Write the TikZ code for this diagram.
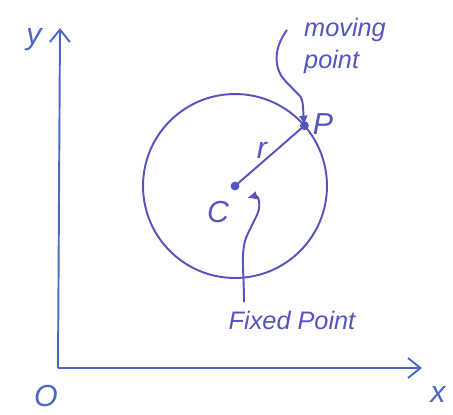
\documentclass[tikz,border=0pt]{standalone}
\usepackage{fontspec}
\setmainfont{Liberation Sans}
\usetikzlibrary{arrows.meta, positioning, calc}
\definecolor{pen}{RGB}{84,84,192}
\definecolor{axispen}{RGB}{72,104,196}

\begin{document}
\begin{tikzpicture}[
    x=0.02cm, y=-0.02cm,
    ink/.style={draw=pen, line width=1.1pt},
    axis/.style={draw=axispen, line width=1.1pt, -{Straight Barb[length=2.5mm, width=4mm]}},
    pointer/.style={ink, -{Latex[length=2mm, width=1.8mm]}, rounded corners=6pt},
    hand/.style={text=pen, font=\LARGE\itshape, inner sep=1pt},
    note/.style={text=pen, font=\Large\itshape, align=left, inner sep=1pt}
]
\useasboundingbox (0,0) rectangle (453,414);

% Axes
\coordinate (origin) at (58,368);
\coordinate (ytop) at (60,28);
\coordinate (xend) at (422,368);
\draw[axis] (origin) -- (ytop);
\draw[axis] (origin) -- (xend);
\node[hand, text=axispen] (ylab) at (34,40) {y};
\node[hand, text=axispen] (xlab) at (438,394) {x};
\node[hand, text=axispen] (olab) at (46,396) {O};

% Circle
\coordinate (centre) at (235,186);
\draw[ink] (centre) circle[radius=1.84cm];
\coordinate (p) at ($(centre)+(41:1.84cm)$);
\fill[pen] (centre) circle[radius=2.5pt];
\fill[pen] (p) circle[radius=2.5pt];
\draw[ink] (centre) -- (p);
\node[hand] (rlab) at (262,150) {r};
\node[hand] (plab) at (323,124) {P};
\node[hand] (clab) at (218,212) {C};

% Labels with pointers
\node[note] (moving) at (345,46) {moving\\point};
\node[note] (fixed) at (292,320) {Fixed Point};
\draw[pointer] (287,30) .. controls (272,50) and (275,70) .. (292,88)
    .. controls (304,100) and (303,112) .. (p);
\draw[pointer] (244,302) .. controls (244,270) and (240,250) .. (252,225)
    .. controls (262,205) and (258,195) .. (247,198);

\end{tikzpicture}
\end{document}
